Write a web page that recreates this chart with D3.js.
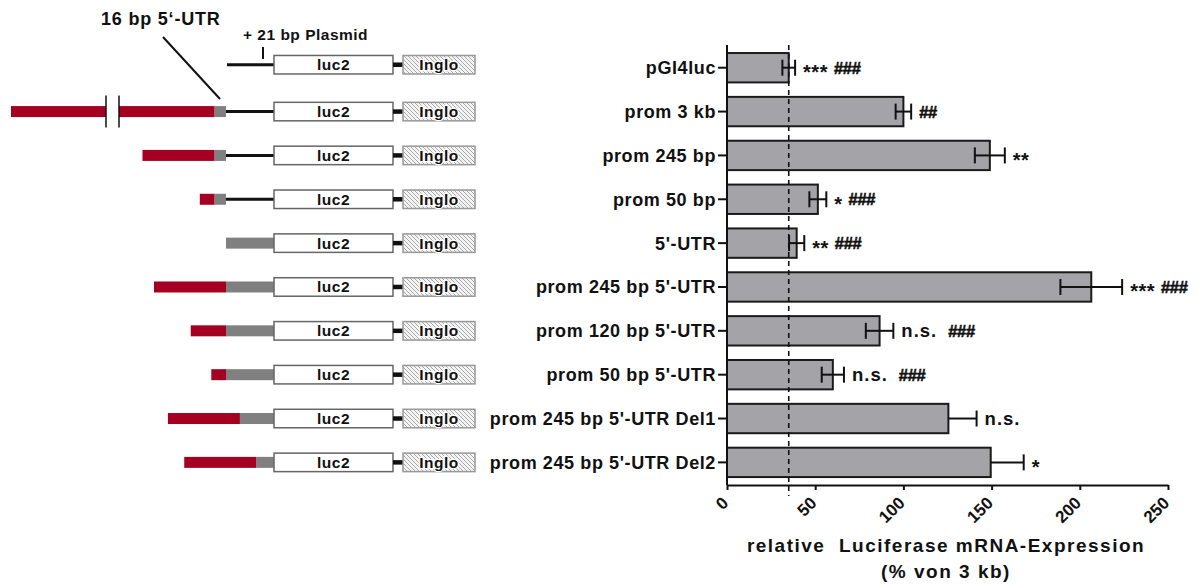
<!DOCTYPE html>
<html>
<head>
<meta charset="utf-8">
<script src="https://cdn.jsdelivr.net/npm/d3@7"></script>
<style>
body { margin: 0; background: #fff; }
text { font-family: "Liberation Sans", Arial, sans-serif; font-weight: bold; fill: #111; }
</style>
</head>
<body>
<div id="chart"></div>
<script>
// constructs, top to bottom
var constructs = ["pGI4luc", "prom 3 kb", "prom 245 bp", "prom 50 bp", "5'-UTR",
    "prom 245 bp 5'-UTR", "prom 120 bp 5'-UTR", "prom 50 bp 5'-UTR",
    "prom 245 bp 5'-UTR Del1", "prom 245 bp 5'-UTR Del2"];

// relative luciferase mRNA expression (% of 3 kb) and error
var means = [35, 100, 149, 51.5, 39.5, 206.5, 86.5, 60, 125.5, 149.5];
var errs = [3.6, 4.4, 8.5, 4.8, 4.3, 17.5, 7.8, 6.3, 16, 18.7];
var showLower = [true, true, true, true, true, true, true, true, false, false];

var sigLabels = ["***", "", "**", "*", "**", "***", "n.s.", "n.s.", "n.s.", "*"];
var hashLabels = ["###", "##", "", "###", "###", "###", "###", "###", "", ""];

var xTicks = [0, 50, 100, 150, 200, 250];

// construct map: promoter length (bp), 5'-UTR part (relative to full UTR), plasmid linker
var promoterBp = [0, 3000, 245, 50, 0, 245, 120, 50, 245, 245];
var utrPart = [0, 0.24, 0.24, 0.24, 1, 1, 1, 1, 0.71, 0.37];
var hasLinker = [true, true, true, true, false, false, false, false, false, false];

var width = 1199, height = 586;

var svg = d3.select("#chart")
    .append("svg")
    .attr("width", width)
    .attr("height", height);

svg.append("rect")
    .attr("width", "100%")
    .attr("height", "100%")
    .attr("fill", "white");

var defs = svg.append("defs");
var hatch = defs.append("pattern")
    .attr("id", "hatch")
    .attr("patternUnits", "userSpaceOnUse")
    .attr("width", 4)
    .attr("height", 4);
hatch.append("rect").attr("width", 4).attr("height", 4).attr("fill", "#f4f4f4");
hatch.append("path")
    .attr("d", "M-1,-1 L5,5 M-1,3 L1,5 M3,-1 L5,1")
    .attr("stroke", "#a8a8a8")
    .attr("stroke-width", 1);

var x = d3.scaleLinear().domain([0, 250]).range([727, 1168]);

var y = d3.scaleBand()
    .domain(constructs)
    .range([45.8, 484.3])
    .paddingInner(0.33)
    .paddingOuter(0.165);

var axisY = 485;

// ---------- bars ----------
var rows = constructs.map(function(c, i) {
    return {name: c, mean: means[i], err: errs[i], lower: showLower[i],
        sig: sigLabels[i], hash: hashLabels[i], bp: promoterBp[i], utr: utrPart[i], linker: hasLinker[i]};
});

svg.append("g")
    .selectAll("rect")
    .data(rows)
    .enter().append("rect")
    .attr("x", x(0))
    .attr("y", function(d) { return y(d.name); })
    .attr("width", function(d) { return x(d.mean) - x(0); })
    .attr("height", y.bandwidth())
    .attr("fill", "#a4a4a8")
    .attr("stroke", "#1a1a1a")
    .attr("stroke-width", 2);

// dashed reference line at pGI4luc level
svg.append("line")
    .attr("x1", x(means[0])).attr("x2", x(means[0]))
    .attr("y1", 45).attr("y2", 496)
    .attr("stroke", "#111")
    .attr("stroke-width", 1.6)
    .attr("stroke-dasharray", "5,4");

// error bars
var eb = svg.append("g").attr("stroke", "#111").attr("stroke-width", 2);
rows.forEach(function(d) {
    var cy = y(d.name) + y.bandwidth() / 2;
    var lo = d.lower ? d.mean - d.err : d.mean;
    var hi = d.mean + d.err;
    eb.append("line").attr("x1", x(lo)).attr("x2", x(hi)).attr("y1", cy).attr("y2", cy);
    eb.append("line").attr("x1", x(hi)).attr("x2", x(hi)).attr("y1", cy - 8).attr("y2", cy + 8);
    if (d.lower) {
        eb.append("line").attr("x1", x(lo)).attr("x2", x(lo)).attr("y1", cy - 8).attr("y2", cy + 8);
    }
});

// significance labels
rows.forEach(function(d) {
    var cy = y(d.name) + y.bandwidth() / 2;
    var tx = x(d.mean + d.err) + 8;
    var next = tx;
    if (d.sig) {
        var t;
        if (d.sig == "n.s.") {
            t = svg.append("text").attr("x", tx).attr("y", cy + 6)
                .style("font-size", "18.5px").style("letter-spacing", "1px").text(d.sig);
            next = tx + t.node().getComputedTextLength() + 11;
        } else {
            t = svg.append("text").attr("x", tx).attr("y", cy + 11.5)
                .style("font-size", "20px").style("letter-spacing", "0.5px").text(d.sig);
            next = tx + t.node().getComputedTextLength() + 6;
        }
    }
    if (d.hash) {
        svg.append("text").attr("x", next).attr("y", cy + 6)
            .style("font-size", "16.5px").style("letter-spacing", "-0.3px")
            .attr("stroke", "#111").attr("stroke-width", 0.6)
            .text(d.hash);
    }
});

// y axis
svg.append("line")
    .attr("x1", x(0)).attr("x2", x(0))
    .attr("y1", 45).attr("y2", axisY)
    .attr("stroke", "#111").attr("stroke-width", 2);

svg.append("g")
    .selectAll("line")
    .data(constructs)
    .enter().append("line")
    .attr("x1", x(0) - 9).attr("x2", x(0))
    .attr("y1", function(d) { return y(d) + y.bandwidth() / 2; })
    .attr("y2", function(d) { return y(d) + y.bandwidth() / 2; })
    .attr("stroke", "#111").attr("stroke-width", 2);

svg.append("g")
    .selectAll("text")
    .data(constructs)
    .enter().append("text")
    .attr("x", 716)
    .attr("y", function(d) { return y(d) + y.bandwidth() / 2 + 6.5; })
    .attr("text-anchor", "end")
    .style("font-size", "18px")
    .style("letter-spacing", "0.6px")
    .text(function(d) { return d; });

// x axis
var xAxis = svg.append("g")
    .attr("transform", "translate(0," + axisY + ")")
    .call(d3.axisBottom(x).tickValues(xTicks).tickSize(5).tickSizeOuter(0).tickFormat(d3.format("d")));
xAxis.select(".domain").attr("stroke", "#111").attr("stroke-width", 2);
xAxis.selectAll(".tick line").attr("stroke", "#111").attr("stroke-width", 2);
xAxis.selectAll(".tick text")
    .attr("fill", "#111")
    .style("font-family", "\"Liberation Sans\", Arial, sans-serif")
    .style("font-weight", "bold")
    .style("font-size", "17px")
    .attr("text-anchor", "end")
    .attr("y", 0)
    .attr("dy", 0)
    .attr("transform", "translate(2,19) rotate(-45)");

svg.append("text")
    .attr("x", 946).attr("y", 552)
    .attr("text-anchor", "middle")
    .style("font-size", "19px")
    .style("letter-spacing", "1.5px")
    .style("white-space", "pre")
    .text("relative  Luciferase mRNA-Expression");

svg.append("text")
    .attr("x", 946).attr("y", 578)
    .attr("text-anchor", "middle")
    .style("font-size", "19px")
    .style("letter-spacing", "1.5px")
    .text("(% von 3 kb)");

// ---------- construct map ----------
var boxX = 274, boxW = 119, ingloX = 403, ingloW = 72;
var bpScale = d3.scaleLinear().domain([0, 245]).range([0, 72]);
var utrScale = d3.scaleLinear().domain([0, 1]).range([0, 48]);
var segH = 11, boxH = 18.5;

var map = svg.append("g");
rows.forEach(function(d, i) {
    var cy = y(d.name) + y.bandwidth() / 2 - (i == 0 ? 3 : 0);
    var utrEnd = d.linker ? 226 : boxX;
    var utrStart = utrEnd - utrScale(d.utr);

    if (d.linker) {
        map.append("line").attr("x1", i == 0 ? 227 : utrEnd).attr("x2", boxX)
            .attr("y1", cy).attr("y2", cy)
            .attr("stroke", "#111").attr("stroke-width", 3);
    }
    if (d.utr > 0) {
        map.append("rect").attr("x", utrStart).attr("y", cy - segH / 2)
            .attr("width", utrEnd - utrStart).attr("height", segH).attr("fill", "#808080");
    }
    if (d.bp > 1000) {
        // long promoter drawn with a break
        map.append("rect").attr("x", 11).attr("y", cy - segH / 2)
            .attr("width", 106 - 11).attr("height", segH).attr("fill", "#a50021");
        map.append("rect").attr("x", 119).attr("y", cy - segH / 2)
            .attr("width", utrStart - 119).attr("height", segH).attr("fill", "#a50021");
        [106, 119].forEach(function(bx) {
            map.append("line").attr("x1", bx).attr("x2", bx)
                .attr("y1", cy - 16).attr("y2", cy + 16)
                .attr("stroke", "#111").attr("stroke-width", 1.5);
        });
    } else if (d.bp > 0) {
        map.append("rect").attr("x", utrStart - bpScale(d.bp)).attr("y", cy - segH / 2)
            .attr("width", bpScale(d.bp)).attr("height", segH).attr("fill", "#a50021");
    }

    // luc2 box
    map.append("rect").attr("x", boxX).attr("y", cy - boxH / 2)
        .attr("width", boxW).attr("height", boxH)
        .attr("fill", "white").attr("stroke", "#666").attr("stroke-width", 1.5);
    map.append("text").attr("x", boxX + boxW / 2).attr("y", cy + 5.5)
        .attr("text-anchor", "middle").style("font-size", "15.5px").style("letter-spacing", "0.5px")
        .text("luc2");

    // connector + Inglo
    map.append("line").attr("x1", boxX + boxW).attr("x2", ingloX)
        .attr("y1", cy).attr("y2", cy)
        .attr("stroke", "#111").attr("stroke-width", 4.5);
    map.append("rect").attr("x", ingloX).attr("y", cy - boxH / 2)
        .attr("width", ingloW).attr("height", boxH)
        .attr("fill", "url(#hatch)").attr("stroke", "#999").attr("stroke-width", 1.5);
    map.append("text").attr("x", ingloX + ingloW / 2).attr("y", cy + 5.5)
        .attr("text-anchor", "middle").style("font-size", "15.5px").style("letter-spacing", "0.5px")
        .attr("stroke", "white").attr("stroke-width", 2.5).style("paint-order", "stroke")
        .text("Inglo");
});

// annotations
svg.append("text").attr("x", 243).attr("y", 40)
    .style("font-size", "15.5px").style("letter-spacing", "0.5px")
    .text("+ 21 bp Plasmid");
svg.append("line").attr("x1", 263).attr("x2", 263).attr("y1", 47).attr("y2", 59)
    .attr("stroke", "#111").attr("stroke-width", 2);

svg.append("text").attr("x", 101).attr("y", 25)
    .style("font-size", "18px").style("letter-spacing", "0.8px")
    .text("16 bp 5\u2018-UTR");
svg.append("line").attr("x1", 163).attr("y1", 37).attr("x2", 220).attr("y2", 99)
    .attr("stroke", "#111").attr("stroke-width", 2);
</script>
</body>
</html>
